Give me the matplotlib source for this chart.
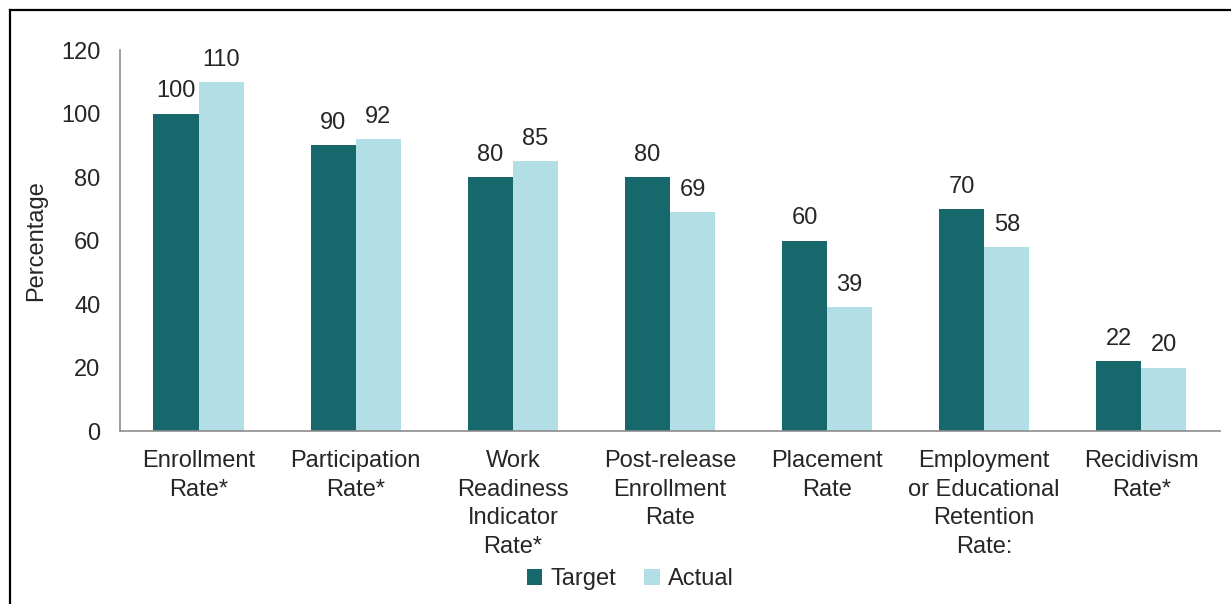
import numpy as np
import matplotlib
matplotlib.use("Agg")
import matplotlib.pyplot as plt
from matplotlib.lines import Line2D

plt.rcParams['font.family'] = ['Liberation Sans', 'DejaVu Sans']

categories = ['Enrollment\nRate*', 'Participation\nRate*', 'Work\nReadiness\nIndicator\nRate*',
              'Post-release\nEnrollment\nRate', 'Placement\nRate',
              'Employment\nor Educational\nRetention\nRate:', 'Recidivism\nRate*']
target = [100, 90, 80, 80, 60, 70, 22]
actual = [110, 92, 85, 69, 39, 58, 20]
yticks = [0, 20, 40, 60, 80, 100, 120]

dark = '#17686C'
light = '#B1DFE5'
text_col = '#262626'
axis_col = '#8C8C8C'

fig = plt.figure(figsize=(12.31, 6.04), dpi=100)
ax = fig.add_axes([0.0975, 0.2864, 0.8935, 0.6308])

x = np.arange(len(categories))
w = 0.287
b1 = ax.bar(x - w / 2, target, w, color=dark, label='Target')
b2 = ax.bar(x + w / 2, actual, w, color=light, label='Actual')

for bars, vals in ((b1, target), (b2, actual)):
    for r, v in zip(bars, vals):
        ax.annotate(str(v), (r.get_x() + r.get_width() / 2, r.get_height()),
                    xytext=(0, 8), textcoords='offset points',
                    ha='center', va='bottom', fontsize=17, color=text_col)

ax.set_xlim(-0.5, len(categories) - 0.5)
ax.set_ylim(0, 120)
ax.set_yticks(yticks)
ax.set_yticklabels([str(t) for t in yticks], fontsize=17, color=text_col)
ax.set_xticks(x)
ax.set_xticklabels(categories, fontsize=17, color=text_col, linespacing=1.38)
ax.tick_params(axis='both', length=0)
ax.tick_params(axis='y', pad=14)
ax.tick_params(axis='x', pad=14)

for s in ('top', 'right'):
    ax.spines[s].set_visible(False)
for s in ('left', 'bottom'):
    ax.spines[s].set_color(axis_col)
    ax.spines[s].set_linewidth(1.2)

ax.set_ylabel('Percentage', fontsize=17, color=text_col, labelpad=10)

fig.legend(handles=[b1, b2], labels=['Target', 'Actual'], loc='center',
           bbox_to_anchor=(0.512, 0.041), ncol=2, frameon=False, fontsize=17,
           handlelength=0.65, handleheight=0.65, handletextpad=0.35,
           columnspacing=1.2, labelcolor=text_col)

# frame lines at top and left of the picture
fig.add_artist(Line2D([10 / 1231, 10 / 1231], [0, 1 - 10 / 604],
                      transform=fig.transFigure, color='black', lw=1.6))
fig.add_artist(Line2D([10 / 1231, 1], [1 - 10 / 604, 1 - 10 / 604],
                      transform=fig.transFigure, color='black', lw=1.6))

fig.savefig('out.png', dpi=100, facecolor='white')
